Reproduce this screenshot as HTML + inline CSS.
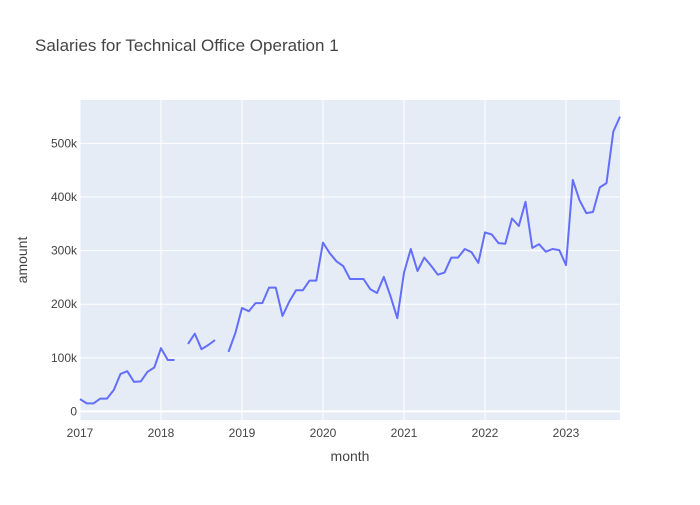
<!DOCTYPE html>
<html><head><meta charset="utf-8"><style>
body{margin:0;background:#fff;font-family:"Liberation Sans","Open Sans",sans-serif;}
text{font-family:"Liberation Sans","Open Sans",sans-serif;fill:#444;}
</style></head><body>
<svg id="chart" width="700" height="500">
<rect x="0" y="0" width="700" height="500" fill="#fff"/>
<text x="35" y="51" font-size="17">Salaries for Technical Office Operation 1</text>
<rect x="80" y="100" width="540" height="320" fill="#e5ecf6"/>
<g id="grid"></g>
<g id="series"></g>
<g id="ticks"></g>
<text x="350" y="461" font-size="14" text-anchor="middle">month</text>
<text x="0" y="0" font-size="14" text-anchor="middle" transform="translate(27,260) rotate(-90)">amount</text>
</svg>
<script>
const startYear = 2017;
const yearLabels = ["2017","2018","2019","2020","2021","2022","2023"];
const yTickValues = [0,100000,200000,300000,400000,500000];
const yTickLabels = ["0","100k","200k","300k","400k","500k"];
const amounts = [
 23000,15000,15000,24000,24000,40000,70000,75000,55000,56000,74000,82000,
 118000,96000,96000,null,126000,145000,116000,124000,133000,null,111000,146000,
 193000,187000,202000,202000,231000,231000,178000,205000,226000,226000,244000,244000,
 315000,295000,280000,271000,247000,247000,247000,228000,221000,251000,215000,174000,
 259000,303000,262000,287000,272000,255000,259000,287000,287000,303000,297000,277000,
 334000,330000,314000,313000,360000,346000,391000,305000,312000,298000,303000,301000,
 273000,432000,394000,370000,372000,418000,426000,522000,550000
];
const X0=80,X1=620,Y0=420,Y1=100;
const xMin=0,xMax=80,yMin=-16000,yMax=581000;
const xs=i=>X0+(i-xMin)/(xMax-xMin)*(X1-X0);
const ys=v=>Y0-(v-yMin)/(yMax-yMin)*(Y0-Y1);
const NS="http://www.w3.org/2000/svg";
const grid=document.getElementById('grid'),ticks=document.getElementById('ticks'),series=document.getElementById('series');
function mk(tag,attrs,parent){const e=document.createElementNS(NS,tag);for(const k in attrs)e.setAttribute(k,attrs[k]);parent.appendChild(e);return e;}
yTickValues.forEach((v,i)=>{
 const y=ys(v);
 const l=mk('line',{x1:X0,x2:X1,y1:y,y2:y,stroke:'#fff','stroke-width':i===0?2:1},grid);
 
 
 const t=mk('text',{x:X0-3,y:y+4,'font-size':12,'text-anchor':'end'},ticks);
 t.textContent=yTickLabels[i];
 
 
});
yearLabels.forEach((lab,i)=>{
 const x=xs(i*12);
 const l=mk('line',{x1:x,x2:x,y1:Y1,y2:Y0,stroke:'#fff','stroke-width':1},grid);
 
 
 const t=mk('text',{x:x,y:Y0+17,'font-size':12,'text-anchor':'middle'},ticks);
 t.textContent=lab;
 
 
});
let segs=[],cur=[];
amounts.forEach((v,i)=>{if(v===null){if(cur.length)segs.push(cur);cur=[];}else cur.push([xs(i),ys(v)]);});
if(cur.length)segs.push(cur);
const d=segs.map(s=>'M'+s.map(p=>p[0].toFixed(1)+','+p[1].toFixed(1)).join('L')).join('');
const p=mk('path',{d:d,fill:'none',stroke:'#636efa','stroke-width':2,'stroke-linejoin':'round'},series);


</script>
</body></html>
